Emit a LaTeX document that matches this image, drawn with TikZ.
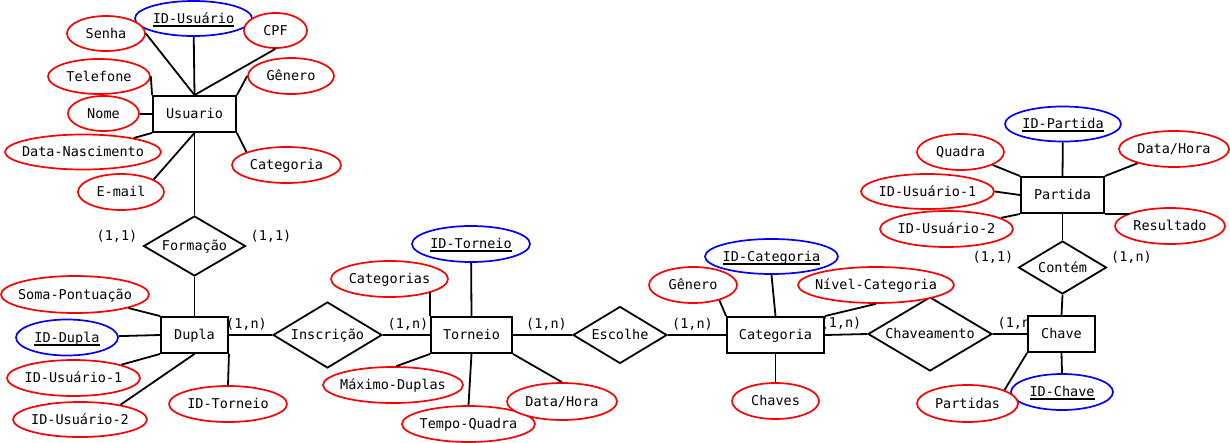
\documentclass[tikz,border=0pt]{standalone}
\usepackage{fontspec}
\setmainfont{DejaVu Sans Mono}
\usetikzlibrary{shapes.geometric}
\newcommand\atxt[1]{\makebox[0pt]{#1}}
\newcommand\keyul[1]{\setbox0=\hbox{#1}\makebox[0pt]{\rlap{\raisebox{-3.5pt}[0pt][0pt]{\rule{\wd0}{1.6pt}}}\box0}}
\begin{document}
\begin{tikzpicture}[x=1pt,y=-1pt,
  every node/.style={font=\fontsize{13.5}{16}\selectfont, text height=10.5pt, text depth=1.5pt},
  ent/.style={draw=black, line width=1.9pt, fill=white, rectangle, inner sep=0pt},
  rel/.style={draw=black, line width=1.8pt, fill=white, diamond, inner sep=0pt},
  attr/.style={draw=red, line width=1.7pt, fill=white, ellipse, inner sep=0pt},
  keyattr/.style={attr, draw=blue},
  conn/.style={line width=1.8pt, draw=black},
  card/.style={inner sep=0pt}
]
\useasboundingbox (0,0) rectangle (1230,442);

% cardinality labels (drawn first, entities cover them)
\node[card] (c1) at (117,236) {(1,1)};
\node[card] (c2) at (271,236) {(1,1)};
\node[card] (c3) at (246.5,324) {(1,n)};
\node[card] (c4) at (408,324) {(1,n)};
\node[card] (c5) at (546.5,324) {(1,n)};
\node[card] (c6) at (692.5,324) {(1,n)};
\node[card] (c7) at (841,323) {(1,n)};
\node[card] (c8) at (1018,323) {(1,n)};
\node[card] (c9) at (993,257) {(1,1)};
\node[card] (c10) at (1131.5,257) {(1,n)};

% relationships
\node[rel, minimum width=102, minimum height=60] (Formacao) at (194.5,246) {\atxt{Formação}};
\node[rel, minimum width=109, minimum height=66] (Inscricao) at (327.5,335) {\atxt{Inscrição}};
\node[rel, minimum width=94, minimum height=57] (Escolhe) at (620,335) {\atxt{Escolhe}};
\node[rel, minimum width=124, minimum height=74] (Chaveamento) at (930,334) {\atxt{Chaveamento}};
\node[rel, minimum width=88, minimum height=53] (Contem) at (1062.5,267.5) {\atxt{Contém}};

% entities
\node[ent, minimum width=83, minimum height=36] (Usuario) at (194.5,114) {Usuario};
\node[ent, minimum width=67, minimum height=36] (Dupla) at (194.5,335) {Dupla};
\node[ent, minimum width=81, minimum height=36] (Torneio) at (471.5,335) {Torneio};
\node[ent, minimum width=97, minimum height=36] (Categoria) at (775.5,335) {Categoria};
\node[ent, minimum width=67, minimum height=36] (Chave) at (1061.5,334) {Chave};
\node[ent, minimum width=83, minimum height=36] (Partida) at (1062.5,195) {Partida};

% attributes of Usuario
\node[keyattr, minimum width=117, minimum height=35] (IDU) at (193.5,18.5) {\keyul{ID-Usuário}};
\node[attr, minimum width=78, minimum height=35] (Senha) at (106,33.5) {\atxt{Senha}};
\node[attr, minimum width=63, minimum height=35] (CPF) at (275.5,30.5) {\atxt{CPF}};
\node[attr, minimum width=102, minimum height=35] (Telefone) at (99,76.5) {\atxt{Telefone}};
\node[attr, minimum width=86, minimum height=36] (GeneroU) at (291,76) {\atxt{Gênero}};
\node[attr, minimum width=71, minimum height=35] (Nome) at (103.5,113.5) {\atxt{Nome}};
\node[attr, minimum width=156, minimum height=35] (DataNasc) at (83,152) {\atxt{Data-Nascimento}};
\node[attr, minimum width=86, minimum height=36] (Email) at (121,192) {\atxt{E-mail}};
\node[attr, minimum width=109, minimum height=36] (CategoriaU) at (286.5,165) {\atxt{Categoria}};

% attributes of Dupla
\node[attr, minimum width=148, minimum height=37] (SomaP) at (75,294.5) {\atxt{Soma-Pontuação}};
\node[keyattr, minimum width=102, minimum height=36] (IDDupla) at (67,337.5) {\keyul{ID-Dupla}};
\node[attr, minimum width=133, minimum height=36] (IDU1D) at (73.5,378) {\atxt{ID-Usuário-1}};
\node[attr, minimum width=134, minimum height=35] (IDU2D) at (80,419.5) {\atxt{ID-Usuário-2}};
\node[attr, minimum width=118, minimum height=36] (IDTD) at (228,404) {\atxt{ID-Torneio}};

% attributes of Torneio
\node[keyattr, minimum width=118, minimum height=36] (IDTorneio) at (471,244) {\keyul{ID-Torneio}};
\node[attr, minimum width=117, minimum height=36] (Categorias) at (389.5,279) {\atxt{Categorias}};
\node[attr, minimum width=140, minimum height=36] (MaxD) at (393,385) {\atxt{Máximo-Duplas}};
\node[attr, minimum width=133, minimum height=36] (TempoQ) at (468.5,424) {\atxt{Tempo-Quadra}};
\node[attr, minimum width=110, minimum height=37] (DataHoraT) at (562,401.5) {\atxt{Data/Hora}};

% attributes of Categoria
\node[keyattr, minimum width=133, minimum height=35] (IDCategoria) at (771.5,256.5) {\keyul{ID-Categoria}};
\node[attr, minimum width=88, minimum height=36] (GeneroC) at (693,285) {\atxt{Gênero}};
\node[attr, minimum width=156, minimum height=36] (NivelC) at (876,285) {\atxt{Nível-Categoria}};
\node[attr, minimum width=87, minimum height=36] (Chaves) at (775.5,401) {\atxt{Chaves}};

% attributes of Chave
\node[keyattr, minimum width=102, minimum height=36] (IDChave) at (1062,392) {\keyul{ID-Chave}};
\node[attr, minimum width=101, minimum height=37] (Partidas) at (967.5,403.5) {\atxt{Partidas}};

% attributes of Partida
\node[keyattr, minimum width=116, minimum height=35] (IDPartida) at (1063,124) {\keyul{ID-Partida}};
\node[attr, minimum width=87, minimum height=36] (Quadra) at (960.5,152) {\atxt{Quadra}};
\node[attr, minimum width=110, minimum height=36] (DataHoraP) at (1174,149) {\atxt{Data/Hora}};
\node[attr, minimum width=133, minimum height=35] (IDU1P) at (927.5,191.5) {\atxt{ID-Usuário-1}};
\node[attr, minimum width=133, minimum height=36] (IDU2P) at (946.5,229) {\atxt{ID-Usuário-2}};
\node[attr, minimum width=110, minimum height=36] (Resultado) at (1170,226) {\atxt{Resultado}};

% connectors: Usuario
\draw[conn] (IDU) -- (Usuario.north);
\draw[conn] (Senha.east) -- (Usuario.north);
\draw[conn] (CPF.south) -- (Usuario.north);
\draw[conn] (Telefone.east) -- (Usuario.north west);
\draw[conn] (GeneroU.west) -- (Usuario.north east);
\draw[conn] (Nome) -- (Usuario.west);
\draw[conn] (DataNasc) -- (Usuario.south west);
\draw[conn] (Email.21) -- (Usuario.south);
\draw[conn] (CategoriaU.162) -- (Usuario.south east);
\draw[conn] (Usuario.south) -- (Formacao.north);
\draw[conn] (Formacao.south) -- (Dupla.north);

% Dupla
\draw[conn] (SomaP) -- (Dupla.north west);
\draw[conn] (IDDupla) -- (Dupla.west);
\draw[conn] (IDU1D) -- (Dupla.south west);
\draw[conn] (IDU2D.20) -- (Dupla.south);
\draw[conn] (IDTD.north) -- (Dupla.south east);
\draw[conn] (Dupla.east) -- (Inscricao.west);
\draw[conn] (Inscricao.east) -- (Torneio.west);

% Torneio
\draw[conn] (IDTorneio) -- (Torneio.north);
\draw[conn] (Torneio.north west) -- (Torneio.north west |- Categorias.-18);
\draw[conn] (MaxD.80) -- (Torneio.south west);
\draw[conn] (TempoQ.north) -- (Torneio.south);
\draw[conn] (DataHoraT.north) -- (Torneio.south east);
\draw[conn] (Torneio.east) -- (Escolhe.west);
\draw[conn] (Escolhe.east) -- (Categoria.west);

% Categoria
\draw[conn] (IDCategoria.south) -- (Categoria.north);
\draw[conn] (GeneroC.-30) -- (Categoria.north west);
\draw[conn] (NivelC.south) -- (Categoria.north east);
\draw[conn] (Chaves.north) -- (Categoria.south);
\draw[conn] (Categoria.east) -- (Chaveamento.west);
\draw[conn] (Chaveamento.east) -- (Chave.west);

% Chave
\draw[conn] (IDChave.north) -- (Chave.south);
\draw[conn] (Partidas.20) -- (Chave.south west);
\draw[conn] (Contem.south) -- (Chave.north);

% Partida
\draw[conn] (IDPartida) -- (Partida.north);
\draw[conn] (Quadra) -- (Partida.north west);
\draw[conn] (DataHoraP) -- (Partida.north east);
\draw[conn] (IDU1P.east) -- (Partida.west);
\draw[conn] (IDU2P) -- (Partida.south west);
\draw[conn] (Partida.south east) -- (Partida.south east -| Resultado.162);
\draw[conn] (Partida.south) -- (Contem.north);
\end{tikzpicture}
\end{document}
